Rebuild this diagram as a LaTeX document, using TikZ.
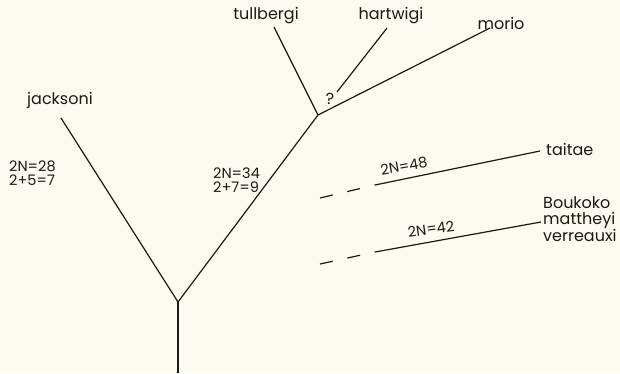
\documentclass[tikz,border=0pt]{standalone}
\usepackage{fontspec}
\setmainfont{Poppins}
\definecolor{paper}{RGB}{253,250,240}
\definecolor{ink}{RGB}{25,25,25}
\begin{document}
\begin{tikzpicture}[x=1pt,y=-1pt,
  branch/.style={draw=ink,line width=1.2pt},
  dashbranch/.style={draw=ink,line width=1.2pt,dash pattern=on 13pt off 15pt},
  lbl/.style={font=\fontsize{16}{17}\selectfont,text=ink,inner sep=0pt},
  num/.style={font=\fontsize{14.5}{13}\selectfont,text=ink,inner sep=0pt,align=left}]
\fill[paper] (0,0) rectangle (620,373);
\useasboundingbox (0,0) rectangle (620,373);
\coordinate (root) at (178,373);
\coordinate (fork) at (178,302);
\coordinate (jtip) at (61,118);
\coordinate (fork2) at (318,115);
\coordinate (ttip) at (274,27);
\coordinate (hbase) at (337,92);
\coordinate (htip) at (387,28);
\coordinate (mtip) at (490,28);
\coordinate (d1a) at (320,198);
\coordinate (d1b) at (375,185);
\coordinate (t1) at (540,151);
\coordinate (d2a) at (320,264);
\coordinate (d2b) at (375,252);
\coordinate (t2) at (541,222);
\draw[branch] (root) -- (fork);
\draw[branch] (fork) -- (jtip);
\draw[branch] (fork) -- (fork2);
\draw[branch] (fork2) -- (ttip);
\draw[branch] (fork2) -- (mtip);
\draw[branch] (hbase) -- (htip);
\draw[dashbranch] (d1a) -- (d1b);
\draw[branch] (d1b) -- (t1);
\draw[dashbranch] (d2a) -- (d2b);
\draw[branch] (d2b) -- (t2);
\node[lbl] (jack) at (60,100) {jacksoni};
\node[lbl] (tull) at (266,16) {tullbergi};
\node[lbl] (hart) at (391,16) {hartwigi};
\node[lbl] (mor) at (501,23) {morio};
\node[lbl] (q) at (330,99) {?};
\node[lbl,anchor=west] (tai) at (546,149) {taitae};
\node[lbl,anchor=north west,align=left,font=\fontsize{16}{16.5}\selectfont] (bouk) at (543,196) {Boukoko\\mattheyi\\verreauxi};
\node[num,anchor=west] (n28) at (9,166) {2N=28};
\node[num,anchor=west] (n28b) at (9,180) {2+5=7};
\node[num,anchor=west] (n34) at (213,173) {2N=34};
\node[num,anchor=west] (n34b) at (213,187) {2+7=9};
\node[num,rotate=10] (n48) at (404,166) {2N=48};
\node[num,rotate=8] (n42) at (431,229) {2N=42};
\end{tikzpicture}
\end{document}
